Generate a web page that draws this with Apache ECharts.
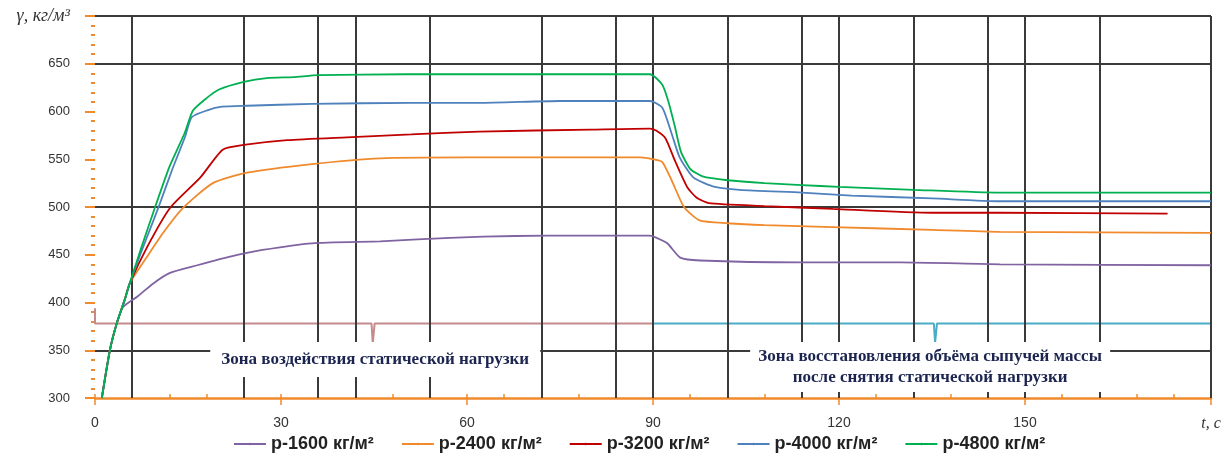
<!DOCTYPE html>
<html lang="ru">
<head>
    <meta charset="UTF-8">
    <title>Плотность сыпучей массы</title>
    <script src="https://cdn.jsdelivr.net/npm/echarts@6/dist/echarts.min.js"></script>
    <style>
        body { margin: 0; background: #fff; }
        #main { width: 1228px; height: 466px; }
    </style>
</head>
<body>
    <div id="main"></div>
    <script>
        // кривые плотности [t, γ]
        const rho1600 = [[1.1, 300], [2.4, 350], [3.5, 378], [4.5, 395], [6.8, 406], [9.4, 420], [12.1, 431], [16.5, 439], [21.8, 448], [27, 455], [35, 462], [46, 464], [52, 466], [62.6, 469], [73, 470], [89.5, 470], [90.5, 468], [92.3, 462], [94.4, 447], [97.6, 444], [113.7, 442], [130, 442], [146, 440], [180, 439]]
        const rho2400 = [[1.1, 300], [2.4, 350], [3.5, 378], [4.8, 403], [5.6, 420], [8.4, 448], [11, 473], [14.2, 499], [19, 525], [24.5, 536], [35, 545], [46, 551], [60, 552], [88, 552], [90, 550], [91.5, 547], [93, 528], [95, 500], [97.5, 486], [102, 483], [108, 481], [119, 479], [135, 476], [146, 474], [180, 473]]
        const rho3200 = [[1.1, 300], [2.4, 350], [3.5, 378], [4.8, 403], [5.6, 420], [8.4, 458], [12.1, 499], [17, 531], [20.6, 560], [24, 565], [31, 570], [40.6, 573], [51, 576], [62, 579], [80, 581], [89.5, 582], [90.5, 580], [92, 572], [93.5, 549], [95.5, 521], [97, 510], [99, 504], [108, 501], [119, 498], [135, 494], [146, 494], [173, 493]]
        const rho4000 = [[1.1, 300], [2.4, 350], [3.5, 378], [4.8, 403], [5.6, 420], [8, 462], [10.2, 499], [12.5, 540], [14.5, 573], [15.6, 594], [18, 601], [20.5, 605], [24.5, 606], [35, 608], [51, 609], [62, 609], [75, 611], [89.5, 611], [91.5, 604], [93, 577], [94.3, 552], [96.5, 531], [100, 521], [104, 518], [114, 515], [122, 512], [135, 509], [146, 506], [180, 506]]
        const rho4800 = [[1.1, 300], [2.4, 350], [3.5, 378], [4.8, 403], [5.6, 420], [7.5, 458], [9.7, 500], [12, 542], [14.5, 578], [15.8, 601], [18, 614], [20, 623], [24, 631], [27.7, 635], [32, 636], [36, 638], [50, 639], [89.5, 639], [91.5, 628], [92.5, 610], [93.5, 585], [94.5, 558], [96, 540], [98, 532], [102, 528], [108, 525], [114, 523], [120, 521], [132, 518], [146, 515], [180, 515]]

        // линии нагрузки
        const loadOn = [[0, 394], [0, 378], [44.6, 378], [44.8, 357], [45.1, 378], [90, 378], [90, 400]]
        const loadOff = [[90, 378], [135.3, 378], [135.5, 358], [135.8, 378], [180, 378], [180, 400]]

        const seriesNames = ['р-1600 кг/м²', 'р-2400 кг/м²', 'р-3200 кг/м²', 'р-4000 кг/м²', 'р-4800 кг/м²']
        const seriesColors = ['#8064a2', '#f08a2c', '#c00000', '#4f81bd', '#00b050']

        // сетка
        const gridX = [6, 24, 36, 42, 54, 72, 84, 90, 102, 114, 120, 132, 144, 150, 162, 180]
        const gridY = [700, 650, 500, 350]

        // надписи зон
        const zoneText = ['Зона воздействия статической нагрузки', 'Зона восстановления объёма сыпучей массы\nпосле снятия статической нагрузки']
        const zonePos = [[45.2, 340.3], [134.7, 332.5]]

        const orange = '#f08a2c'
        const myChart = echarts.init(document.getElementById('main'))

        const curves = [rho1600, rho2400, rho3200, rho4000, rho4800].map((d, i) => ({
            name: seriesNames[i],
            type: 'line',
            data: d,
            symbol: 'none',
            smooth: 0.2,
            z: 5,
            lineStyle: { color: seriesColors[i], width: 1.8 },
            itemStyle: { color: seriesColors[i] }
        }))

        const option = {
            animation: false,
            grid: { left: 95, right: 17, top: 16, bottom: 68 },
            legend: {
                data: seriesNames,
                bottom: 8,
                left: 228,
                itemWidth: 32,
                itemHeight: 3,
                itemGap: 27,
                textStyle: { fontFamily: 'Liberation Sans', fontSize: 18, fontWeight: 'bold', color: '#222' }
            },
            xAxis: [
                {
                    type: 'value', min: 0, max: 180, interval: 30,
                    axisLine: { lineStyle: { color: orange, width: 2.5 } },
                    axisTick: { length: 7, lineStyle: { color: orange, width: 1.5 } },
                    splitLine: { show: false },
                    axisLabel: {
                        margin: 18, color: '#333', fontFamily: 'Liberation Sans', fontSize: 14,
                        formatter: v => v === 180 ? '{i|t, c}' : v,
                        rich: { i: { fontStyle: 'italic', fontFamily: 'Liberation Serif', fontSize: 16, color: '#333' } }
                    }
                },
                {
                    type: 'value', min: 0, max: 180, interval: 6, position: 'bottom',
                    axisLine: { show: false },
                    axisTick: { inside: true, length: 4, lineStyle: { color: orange, width: 1.5 } },
                    axisLabel: { show: false },
                    splitLine: { show: false }
                }
            ],
            yAxis: {
                type: 'value', min: 300, max: 700, interval: 50,
                axisLine: { show: false },
                axisTick: { show: true, length: 10, lineStyle: { color: orange, width: 2 } },
                minorTick: { show: true, splitNumber: 5, length: 4, lineStyle: { color: orange, width: 2 } },
                splitLine: { show: false },
                axisLabel: {
                    margin: 25, color: '#333', fontFamily: 'Liberation Sans', fontSize: 13,
                    formatter: v => v === 700 ? '{i|γ, кг/м³}' : v,
                    rich: { i: { fontStyle: 'italic', fontFamily: 'Liberation Serif', fontSize: 18, color: '#333' } }
                }
            },
            series: [
                {
                    type: 'line',
                    data: [],
                    z: 1,
                    silent: true,
                    markLine: {
                        silent: true,
                        symbol: 'none',
                        label: { show: false },
                        lineStyle: { color: '#3a3a3a', width: 2, type: 'solid' },
                        data: gridX.map(x => ({ xAxis: x })).concat(gridY.map(y => ({ yAxis: y })))
                    }
                },
                {
                    type: 'line', data: loadOn, symbol: 'none', z: 4, silent: true,
                    lineStyle: { color: '#c48a8c', width: 2 }
                },
                {
                    type: 'line', data: loadOff, symbol: 'none', z: 4, silent: true,
                    lineStyle: { color: '#4bacc6', width: 2 }
                },
                ...curves,
                {
                    type: 'scatter',
                    symbolSize: 0,
                    z: 10,
                    silent: true,
                    itemStyle: { opacity: 1 },
                    data: zonePos.map((p, i) => ({
                        value: p,
                        label: {
                            show: true,
                            position: 'inside',
                            formatter: zoneText[i],
                            backgroundColor: '#fff',
                            opacity: 1,
                            width: i === 0 ? 330 : 360,
                            height: i === 0 ? 35 : 50,
                            lineHeight: 21,
                            align: 'center',
                            verticalAlign: 'middle',
                            fontFamily: 'Liberation Serif',
                            fontWeight: 'bold',
                            fontSize: 17,
                            color: '#1c2450'
                        }
                    }))
                }
            ]
        }

        myChart.setOption(option)
    </script>
</body>
</html>
